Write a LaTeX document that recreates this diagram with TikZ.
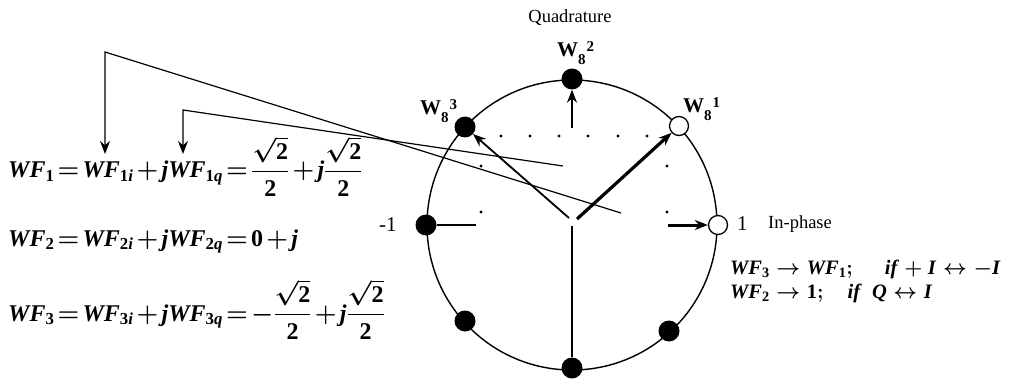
\documentclass[tikz,border=0pt]{standalone}
\usepackage{amsmath}
\usepackage{fontspec}
\setmainfont{Liberation Serif}
\usepackage{tikz}
\usetikzlibrary{arrows.meta, calc}

\newcommand{\bfit}[1]{\textbf{\textit{#1}}}
\newcommand{\WF}[2]{\bfit{WF}_{\textbf{#1}\bfit{#2}}}
\newcommand{\rtwo}{\dfrac{\sqrt{\textbf{2}}}{\textbf{2}}}
\newcommand{\wlab}[1]{\textbf{W}\raisebox{-8pt}{\fontsize{15}{15}\selectfont\bfseries 8}\kern1pt\raisebox{5pt}{\fontsize{15}{15}\selectfont\bfseries #1}}
\newcommand{\eqspacing}{\thickmuskip=2mu\relax\medmuskip=2mu\relax}

\begin{document}
\begin{tikzpicture}[x=1pt, y=-1pt, >={Stealth[length=13pt, width=10pt]},
  sym/.style={circle, fill=black, inner sep=0pt, minimum size=21pt},
  opensym/.style={circle, draw=black, fill=white, line width=1.3pt, inner sep=0pt, minimum size=19pt},
  gdot/.style={circle, fill=black, inner sep=0pt, minimum size=3.2pt},
  lbl/.style={anchor=base west, inner sep=0pt, font=\fontsize{21}{24}\selectfont},
  axlbl/.style={anchor=base, inner sep=0pt, font=\fontsize{18.5}{22}\selectfont},
  eq/.style={anchor=base west, inner sep=0pt,
    font=\fontsize{24}{28}\selectfont\boldmath\eqspacing},
  eqr/.style={anchor=base west, inner sep=0pt, font=\fontsize{20.5}{25}\selectfont\boldmath}]
  \useasboundingbox (0,0) rectangle (1019,382);
  % Unit circle
  \draw[line width=1.4pt] (572,225) circle [radius=145];
  % Points W_8^k
  \node[opensym] (w0) at (718,225) {};
  \node[opensym] (w1) at (679,126) {};
  \node[sym] (w2) at (572,79) {};
  \node[sym] (w3) at (465,127) {};
  \node[sym] (w4) at (426,225) {};
  \node[sym] (w5) at (465,321) {};
  \node[sym] (w6) at (572,368) {};
  \node[sym] (w7) at (669,331) {};
  % Dotted square
  \foreach \x in {501,530,559,588,618,647}
    \node[gdot] (g\x) at (\x,136) {};
  \node[gdot] (gl1) at (481,166) {};
  \node[gdot] (gr1) at (667,166) {};
  \node[gdot] (gl2) at (481,212) {};
  \node[gdot] (gr2) at (667,212) {};
  % Vectors
  \coordinate (oa) at (569,218);
  \coordinate (ob) at (577,219);
  \coordinate (oc) at (572,226);
  \coordinate (oq) at (572,128);
  \coordinate (om) at (476,225);
  \coordinate (oi) at (668,225);
  \draw[line width=1.8pt, ->] (oa) -- (w3);
  \draw[line width=3.2pt, ->] (ob) -- (w1);
  \draw[line width=1.6pt] (oc) -- (w6);
  \draw[line width=1.6pt, ->] (oq) -- (w2);
  \draw[line width=1.6pt] (w4) -- (om);
  \draw[line width=3pt, ->] (oi) -- (w0);
  % Labels
  \node[axlbl] (qd) at (570,23) {Quadrature};
  \node[axlbl, anchor=base west] (ip) at (768,228) {In-phase};
  \node[lbl] (l2) at (557,57) {\wlab{2}};
  \node[lbl] (l3) at (420,115) {\wlab{3}};
  \node[lbl] (l1) at (683,113) {\wlab{1}};
  \node[lbl] (lm) at (379,231) {-1};
  \node[lbl] (lp) at (737,230) {1};
  % Equations
  \node[eq] (eq1) at (8,178)
    {$\WF{1}{} = \WF{1}{i} + \bfit{j}\WF{1}{q} = \rtwo + \bfit{j}\rtwo$};
  \node[eq] (eq2) at (8,246)
    {$\WF{2}{} = \WF{2}{i} + \bfit{j}\WF{2}{q} = \textbf{0} + \bfit{j}$};
  \node[eq] (eq3) at (8,321)
    {$\WF{3}{} = \WF{3}{i} + \bfit{j}\WF{3}{q} = -\rtwo + \bfit{j}\rtwo$};
  \node[eqr] (r1) at (730,274)
    {$\WF{3}{} \rightarrow \WF{1}{};\hspace{28pt}\bfit{if} + \bfit{I} \leftrightarrow -\bfit{I}$};
  \node[eqr] (r2) at (730,298)
    {$\WF{2}{} \rightarrow \textbf{1};\hspace{20pt}\bfit{if}\ \ \bfit{Q} \leftrightarrow \bfit{I}$};
  % Leader lines to the components
  \coordinate (e1) at (621,213);
  \coordinate (k1) at (105,52);
  \coordinate (t1) at (105,154);
  \coordinate (e2) at (563,166);
  \coordinate (k2) at (183,110);
  \coordinate (t2) at (183,154);
  \draw[line width=1.2pt, ->] (e1) -- (k1) -- (t1);
  \draw[line width=1.2pt, ->] (e2) -- (k2) -- (t2);
\end{tikzpicture}
\end{document}
